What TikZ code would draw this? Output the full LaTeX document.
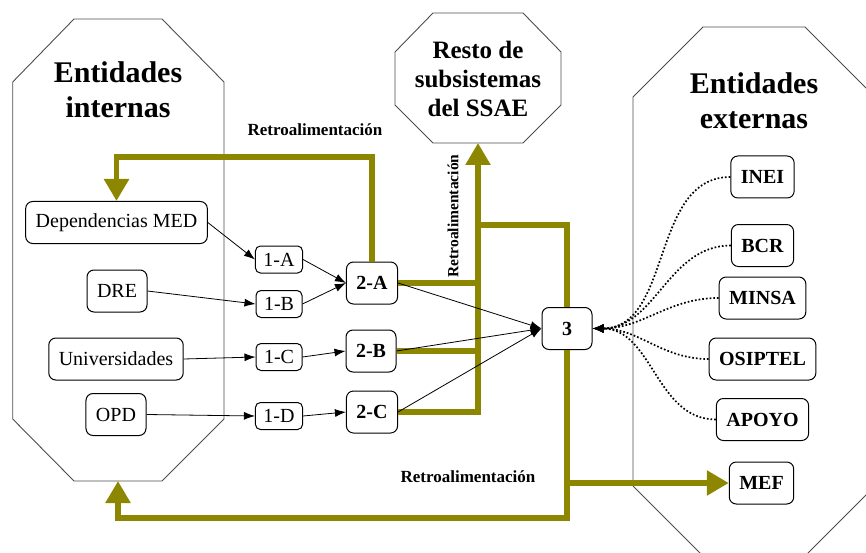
\documentclass[tikz,border=0pt]{standalone}
\usepackage{fontspec}
\setmainfont{Liberation Serif}
\usetikzlibrary{arrows.meta,positioning}

\begin{document}
\begin{tikzpicture}[
        x=1pt, y=-1pt,
        box/.style={draw, rounded corners=7pt, line width=1pt, minimum height=42pt,
            inner xsep=10pt, inner ysep=0pt, font=\fontsize{20}{22}\selectfont},
        boxb/.style={box, font=\fontsize{20}{22}\selectfont\bfseries},
        nodo/.style={boxb, minimum width=50pt},
        paso/.style={box, minimum height=27pt, inner xsep=8pt, rounded corners=5pt},
        titulo/.style={align=center, font=\fontsize{30}{35}\selectfont\bfseries},
        retro/.style={font=\fontsize{17}{20}\selectfont\bfseries},
        frontera/.style={draw=black!70, line width=0.9pt},
        flujo/.style={-{Latex[length=11pt,width=8pt]}, line width=0.8pt},
        fb/.style={draw=olive, line width=5.5pt},
        fbarrow/.style={fb, -{Triangle[width=24pt,length=22pt]}},
        externo/.style={dotted, line width=1.7pt, -{Latex[length=11pt,width=9pt]}},
    ]
    \useasboundingbox (0,0) rectangle (866,553);

    % fronteras
    \draw[frontera] (74,19) -- (162,19) -- (224,82) -- (224,419) -- (162,481)
        -- (74,481) -- (12.7,419) -- (12.7,82) -- cycle;
    \draw[frontera] (703,27) -- (805,27) -- (875,97) -- (875,486) -- (805,556)
        -- (703,556) -- (633,486) -- (633,97) -- cycle;
    \draw[frontera] (433,13) -- (523,13) -- (561,52) -- (561,105) -- (523,143)
        -- (433,143) -- (395,105) -- (395,52) -- cycle;

    \node[titulo] (int) at (118,89.5) {Entidades\\internas};
    \node[titulo] (ext) at (754,100.5) {Entidades\\externas};
    \node[align=center, font=\fontsize{25}{29}\selectfont\bfseries] (resto) at (478,79)
        {Resto de\\subsistemas\\del SSAE};
    \coordinate (restob) at (478,143);
    \coordinate (intb) at (118,481);

    % entidades internas
    \node[box] (med) at (116.5,222.5) {Dependencias MED};
    \node[box] (dre) at (117,291) {DRE};
    \node[box] (uni) at (116,359) {Universidades};
    \node[box] (opd) at (116,414.5) {OPD};

    \node[paso] (1a) at (279,259.5) {1-A};
    \node[paso] (1b) at (279,304) {1-B};
    \node[paso] (1c) at (279,357) {1-C};
    \node[paso] (1d) at (279,416) {1-D};

    \node[nodo] (2a) at (372,283) {2-A};
    \node[nodo] (2b) at (371,351) {2-B};
    \node[nodo] (2c) at (372,412) {2-C};

    \node[nodo] (3) at (567,328.5) {3};

    % entidades externas
    \node[boxb] (inei) at (762.5,177) {INEI};
    \node[boxb] (bcr) at (762.5,245.5) {BCR};
    \node[boxb] (minsa) at (762.5,298) {MINSA};
    \node[boxb] (osiptel) at (762.5,359) {OSIPTEL};
    \node[boxb] (apoyo) at (762.5,419.5) {APOYO};
    \node[boxb] (mef) at (761.5,483) {MEF};

    % retroalimentacion
    \draw[fbarrow] (2a.north) -- (372,157) -| (med.north);
    \draw[fb] (2a.east) -- (478,283);
    \draw[fb] (2b.east) -- (478,351);
    \draw[fbarrow] (2c.east) -| (restob);
    \draw[fb] (478,225) -| (3.north);
    \draw[fbarrow] (3.south) |- (118,518) -- (intb);
    \draw[fbarrow] (567,483) -- (mef.west);

    \node[retro] (r1) at (315,130) {Retroalimentación};
    \node[retro, rotate=90, font=\fontsize{15.5}{18}\selectfont\bfseries] (r2) at (453,216) {Retroalimentación};
    \node[retro] (r3) at (468,477) {Retroalimentación};

    % flujos
    \draw[flujo] (med.east) -- (1a.west);
    \draw[flujo] (dre.east) -- (1b.west);
    \draw[flujo] (uni.east) -- (1c.west);
    \draw[flujo] (opd.east) -- (1d.west);
    \draw[flujo] (1a.east) -- (2a.west);
    \draw[flujo] (1b.east) -- (2a.west);
    \draw[flujo] (1c.east) -- (2b.west);
    \draw[flujo] (1d.east) -- (2c.west);
    \draw[flujo] (2a.east) -- (3.west);
    \draw[flujo] (2b.east) -- (3.west);
    \draw[flujo] (2c.east) -- (3.west);

    \foreach \e in {inei,bcr,minsa,osiptel,apoyo}
        \draw[externo] (\e.west) to[out=180,in=0] (3.east);
\end{tikzpicture}
\end{document}
